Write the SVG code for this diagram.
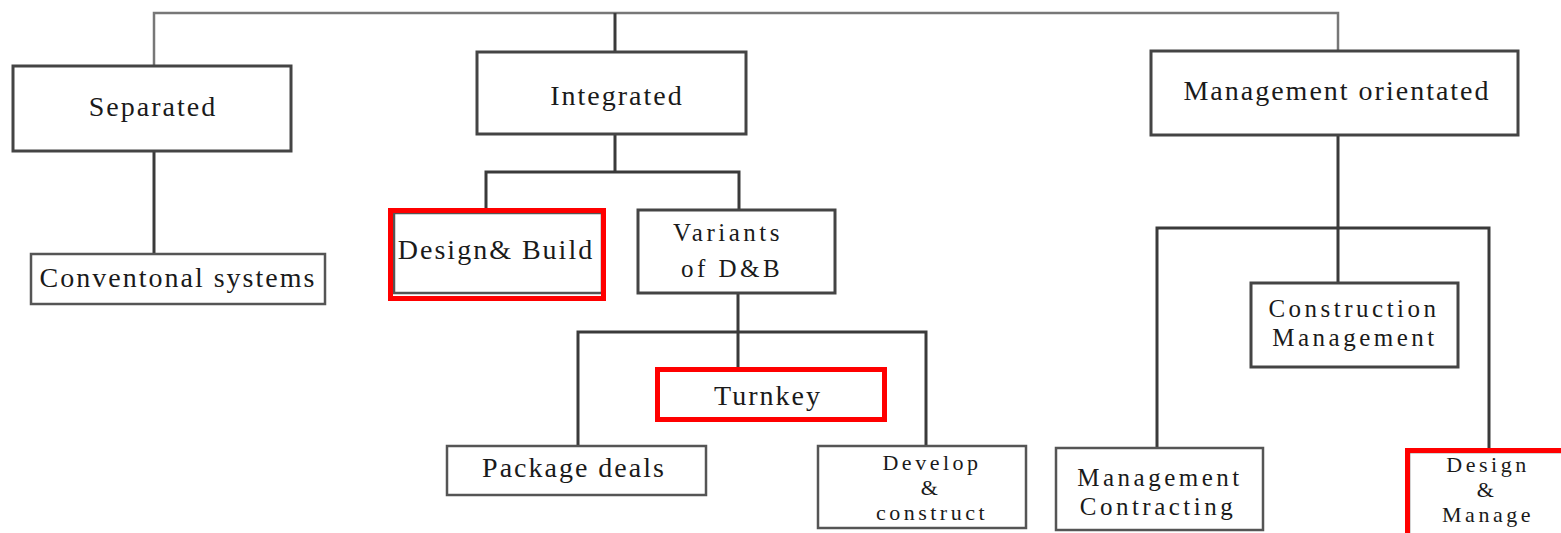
<svg xmlns="http://www.w3.org/2000/svg" width="1561" height="533" viewBox="0 0 1561 533">
<style>
.box{fill:#fff;stroke:#444;stroke-width:3}
.box2{fill:#fff;stroke:#555;stroke-width:2.5}
.red{fill:none;stroke:#f00;stroke-width:5}
.c{fill:none;stroke:#3a3a3a;stroke-width:3}
.top{fill:none;stroke:#777;stroke-width:2.5}
text{font-family:"Liberation Serif","Times New Roman",serif;font-size:28px;letter-spacing:2px;fill:#1a1a1a;text-anchor:middle}
.two{font-size:25px;letter-spacing:3.5px}
.three{font-size:22px;letter-spacing:3.5px}
</style>
<rect width="1561" height="533" fill="#fff"/>
<g id="connectors">
<path class="top" d="M154,66 V13 H1338 V51"/>
<path class="c" d="M615,13 V52"/>
<path class="c" d="M154,151 V254"/>
<path class="c" d="M615,134 V172 M486,213 V172 H739 V210"/>
<path class="c" d="M738,293 V370 M578,446 V332 H926 V446"/>
<path class="c" d="M1338,135 V283 M1157,448 V228 H1489 V448"/>
</g>
<g id="separated"><rect class="box" x="13" y="66" width="278" height="85"/><text x="153" y="116">Separated</text></g>
<g id="conventional"><rect class="box2" x="31" y="254" width="294" height="50"/><text x="178" y="287">Conventonal systems</text></g>
<g id="integrated"><rect class="box" x="477" y="52" width="269" height="82"/><text x="617" y="105">Integrated</text></g>
<g id="design-build"><rect class="box2" x="394" y="213" width="208" height="80"/><rect class="red" x="390.5" y="210.5" width="213" height="88"/><text x="496" y="259">Design&amp; Build</text></g>
<g id="variants"><rect class="box" x="638" y="210" width="197" height="83"/><text class="two" x="728" y="241">Variants</text><text class="two" x="732" y="277">of D&amp;B</text></g>
<g id="turnkey"><rect fill="#fff" x="657" y="369" width="227" height="50"/><rect class="red" x="657.5" y="369.5" width="227" height="50"/><text x="768" y="405">Turnkey</text></g>
<g id="package"><rect class="box2" x="447" y="446" width="259" height="49"/><text x="574" y="477">Package deals</text></g>
<g id="develop"><rect class="box2" x="818" y="446" width="208" height="82"/><text class="three" x="932" y="470">Develop</text><text class="three" x="931" y="495">&amp;</text><text class="three" x="932" y="520">construct</text></g>
<g id="management-orientated"><rect class="box" x="1151" y="51" width="367" height="84"/><text x="1337" y="100">Management orientated</text></g>
<g id="construction-management"><rect class="box" x="1251" y="283" width="207" height="84"/><text class="two" x="1354" y="317">Construction</text><text class="two" x="1355" y="346">Management</text></g>
<g id="management-contracting"><rect class="box2" x="1056" y="448" width="207" height="82"/><text class="two" x="1160" y="486">Management</text><text class="two" x="1158" y="515">Contracting</text></g>
<g id="design-manage"><rect class="box2" x="1409" y="452" width="170" height="90"/><rect class="red" x="1407.5" y="450.5" width="170" height="95"/><text class="three" x="1488" y="472">Design</text><text class="three" x="1487" y="497">&amp;</text><text class="three" x="1488" y="522">Manage</text></g>
</svg>
